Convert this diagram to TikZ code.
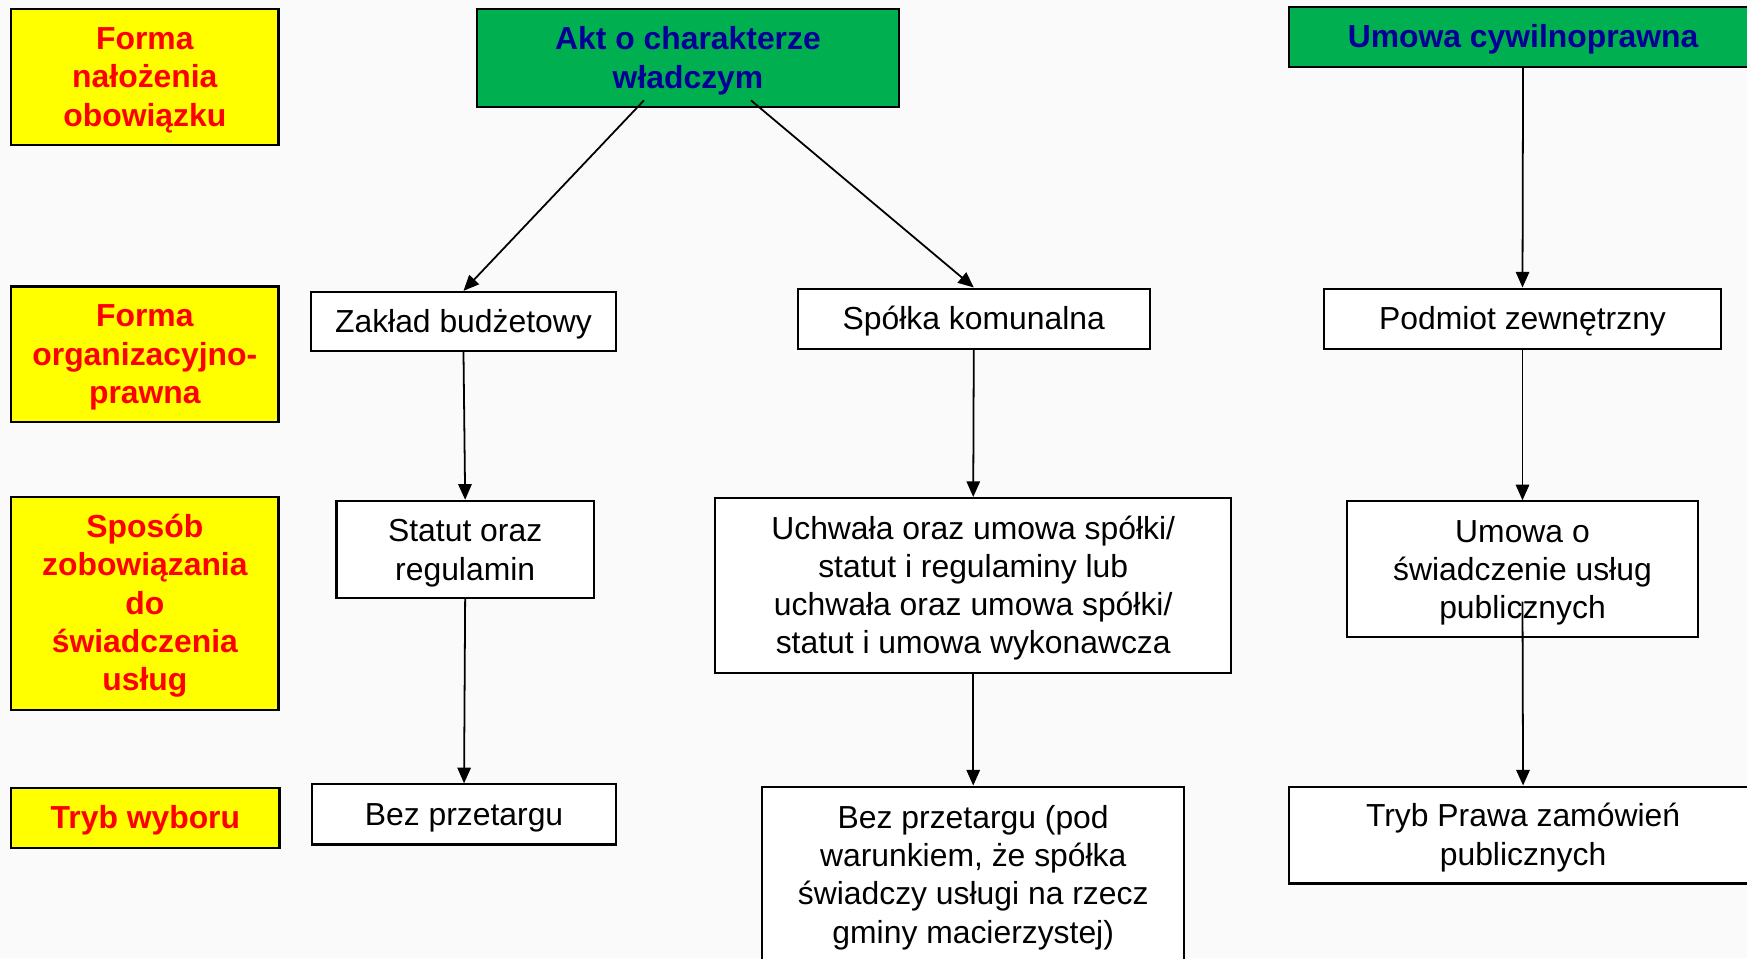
\documentclass[tikz,border=0pt]{standalone}
\usepackage{fontspec}
\setmainfont{Liberation Sans}
\usetikzlibrary{arrows.meta,calc}
\definecolor{bgc}{RGB}{250,250,250}
\definecolor{ylw}{RGB}{255,255,0}
\definecolor{rd}{RGB}{255,0,0}
\definecolor{grn}{RGB}{0,176,80}
\definecolor{nvy}{RGB}{0,0,150}
\newcommand{\tx}[1]{\raisebox{-1.5pt}[\height][\depth]{\begin{tabular}{@{}c@{}}#1\end{tabular}}}
\tikzset{
  lbl/.style={draw=black,line width=1.05pt,fill=ylw,text=rd,font=\fontsize{14.3}{17.2}\selectfont\bfseries,inner sep=0pt},
  head/.style={draw=black,line width=1.05pt,fill=grn,text=nvy,font=\fontsize{14.3}{17.2}\selectfont\bfseries,inner sep=0pt},
  box/.style={draw=black,line width=0.95pt,fill=white,text=black,font=\fontsize{14.3}{17.2}\selectfont,inner sep=0pt},
  arr/.style={line width=0.8pt,-{Triangle[length=7pt,width=6pt]}}
}
\begin{document}
\begin{tikzpicture}[x=0.5pt,y=-0.5pt]
\fill[bgc] (0,0) rectangle (1568,860);
\useasboundingbox (0,0) rectangle (1568,860);
\clip (0,0) rectangle (1568,860);
% left labels
\node[lbl,minimum width=120pt,minimum height=61pt] (y1) at (130,69) {\tx{Forma\\nałożenia\\obowiązku}};
\node[lbl,minimum width=120pt,minimum height=61pt] (y2) at (130,318) {\tx{Forma\\organizacyjno-\\prawna}};
\node[lbl,minimum width=120pt,minimum height=95.5pt] (y3) at (130,541.5) {\tx{Sposób\\zobowiązania\\do\\świadczenia\\usług}};
\node[lbl,minimum width=120.5pt,minimum height=27pt] (y4) at (130.5,734) {\tx{Tryb wyboru}};
% green heads
\node[head,minimum width=189.5pt,minimum height=44pt] (akt) at (617.5,52) {\tx{Akt o charakterze\\władczym}};
\node[head,minimum width=210pt,minimum height=27pt] (cyw) at (1367,33) {\tx{Umowa cywilnoprawna}};
% row 2
\node[box,minimum width=137pt,minimum height=26.5pt] (zak) at (416,288.5) {\tx{Zakład budżetowy}};
\node[box,minimum width=158pt,minimum height=27pt] (spo) at (874,286) {\tx{Spółka komunalna}};
\node[box,minimum width=178.5pt,minimum height=27pt] (pod) at (1366.5,286) {\tx{Podmiot zewnętrzny}};
% row 3
\node[box,minimum width=115.5pt,minimum height=43.5pt] (sta) at (417.5,493.5) {\tx{Statut oraz\\regulamin}};
\node[box,minimum width=231.5pt,minimum height=78.5pt] (uch) at (873.5,525.5) {\tx{Uchwała oraz umowa spółki/\\statut i regulaminy lub\\uchwała oraz umowa spółki/\\statut i umowa wykonawcza}};
\node[box,minimum width=157.5pt,minimum height=61pt] (umo) at (1366.5,511) {\tx{Umowa o\\świadczenie usług\\publicznych}};
% row 4
\node[box,minimum width=136.5pt,minimum height=27pt] (bez) at (416.5,731) {\tx{Bez przetargu}};
\node[box,minimum width=189.5pt,minimum height=79pt] (bzp) at (873.5,785) {\tx{Bez przetargu (pod\\warunkiem, że spółka\\świadczy usługi na rzecz\\gminy macierzystej)}};
\node[box,minimum width=210pt,minimum height=43.5pt] (try) at (1367,749.5) {\tx{Tryb Prawa zamówień\\publicznych}};
% connectors
\draw[arr] ($(akt.south)+(-39.5,-7)$) -- (zak.north);
\draw[arr] ($(akt.south)+(56.5,-7)$) -- (spo.north);
\draw[arr] (cyw.south) -- (pod.north);
\draw[arr] (zak.south) -- ($(sta.north)+(0,-0.5)$);
\draw[arr] (spo.south) -- (uch.north);
\draw[arr] (pod.south) -- (umo.north);
\draw[arr] ($(sta.south)+(0,-2)$) -- (bez.north);
\draw[arr] (uch.south) -- (bzp.north);
\draw[arr] ($(umo.center)+(0,29)$) -- (try.north);
\end{tikzpicture}
\end{document}
